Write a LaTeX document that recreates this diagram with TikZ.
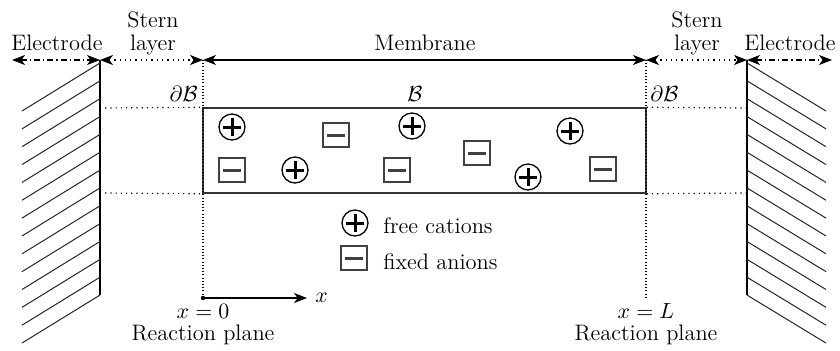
\documentclass[tikz,border=0pt]{standalone}
\usetikzlibrary{arrows.meta}
\begin{document}
\begin{tikzpicture}[x=0.5pt,y=-0.5pt,
  font=\fontsize{11.2}{11.5}\selectfont,
  dimboth/.style={line width=0.65pt,{Stealth[length=6.5pt,width=5pt,inset=1.8pt]}-{Stealth[length=6.5pt,width=5pt,inset=1.8pt]}},
  axisarrow/.style={line width=0.65pt,-{Stealth[length=6.5pt,width=5pt,inset=1.8pt]}},
  guide/.style={dotted,line width=0.6pt},
  vguide/.style={line width=0.6pt,dash pattern=on 0.5pt off 1.1pt},
  hatchline/.style={line width=0.5pt,draw=black!85},
  wallline/.style={line width=0.75pt},
  lbl/.style={inner sep=0pt},
  cation/.style={circle,draw,line width=0.65pt,minimum size=13pt,inner sep=0pt,
    path picture={
      \draw[line width=1.5pt] ([xshift=-4.3pt]path picture bounding box.center) -- ([xshift=4.3pt]path picture bounding box.center);
      \draw[line width=1.5pt] ([yshift=-4.3pt]path picture bounding box.center) -- ([yshift=4.3pt]path picture bounding box.center);}},
  anion/.style={rectangle,draw=black!75,line width=0.55pt,minimum width=13pt,minimum height=12pt,inner sep=0pt,
    path picture={
      \draw[line width=1.5pt] ([xshift=-4.3pt]path picture bounding box.center) -- ([xshift=4.3pt]path picture bounding box.center);}},
]
\useasboundingbox (0,0) rectangle (840,350);

% coordinates along the top
\coordinate (eL) at (12,60);
\coordinate (wL) at (100,60);
\coordinate (rL) at (203,60);
\coordinate (rR) at (646,60);
\coordinate (wR) at (747,60);
\coordinate (eR) at (832,60);
\coordinate (wLb) at (100,295);
\coordinate (wRb) at (747,295);
\coordinate (wLt) at (100,108);
\coordinate (wLu) at (100,193);
\coordinate (wRt) at (747,108);
\coordinate (wRu) at (747,193);
\coordinate (o) at (203,298);
\coordinate (L) at (646,298);
\coordinate (xe) at (307,298);

% electrodes
\draw[wallline] (wL) -- (wLb);
\draw[wallline] (wR) -- (wRb);
\foreach \i in {0,...,13}{
  \draw[hatchline] (100,{63+17.85*\i}) -- (22,{111+17.85*\i});
  \draw[hatchline] (747,{63+17.85*\i}) -- (826,{111+17.85*\i});
}

% membrane box
\node (mem) [draw=black!80,line width=0.75pt,minimum width=221.5pt,minimum height=42.5pt,inner sep=0pt] at (424.5,150.5) {};

% guides
\draw[vguide] (rL) -- (o);
\draw[vguide] (rR) -- (L);
\draw[guide] (wLt) -- (mem.north west);
\draw[guide] (wLu) -- (mem.south west);
\draw[guide] (mem.north east) -- (wRt);
\draw[guide] (mem.south east) -- (wRu);

% top dimension arrows
\draw[dimboth,dash pattern=on 3pt off 1.5pt on 0.6pt off 1.5pt] (eL) -- (wL);
\draw[dimboth,dotted] (wL) -- (rL);
\draw[dimboth] (rL) -- (rR);
\draw[dimboth,dotted] (rR) -- (wR);
\draw[dimboth,dash pattern=on 3pt off 1.5pt on 0.6pt off 1.5pt] (wR) -- (eR);

% top labels
\node[lbl,anchor=base] (tE1) at (57,50) {Electrode};
\node[lbl,anchor=north,align=center] (tS1) at (153,11.7) {Stern\\layer};
\node[lbl,anchor=base] (tM) at (425,50) {Membrane};
\node[lbl,anchor=north,align=center] (tS2) at (697,11.7) {Stern\\layer};
\node[lbl,anchor=base] (tE2) at (790,50) {Electrode};

\node[lbl,anchor=base east] (dB1) at (198,101.7) {$\partial\mathcal{B}$};
\node[lbl,anchor=base] (B) at (415,101.7) {$\mathcal{B}$};
\node[lbl,anchor=base west] (dB2) at (650,101.7) {$\partial\mathcal{B}$};

% ions
\node[cation] (c1) at (232,127) {};
\node[anion]  (a1) at (336,135) {};
\node[cation] (c2) at (412,126) {};
\node[anion]  (a2) at (232,170) {};
\node[cation] (c3) at (295,170) {};
\node[anion]  (a3) at (397,170) {};
\node[anion]  (a4) at (477,153) {};
\node[cation] (c4) at (570,131) {};
\node[cation] (c5) at (528,177) {};
\node[anion]  (a5) at (603,169) {};

% legend
\node[cation] (lc) at (355,223) {};
\node[lbl,anchor=base west] (lct) at (383,233) {free cations};
\node[anion] (la) at (354,258) {};
\node[lbl,anchor=base west] (lat) at (383,269) {fixed anions};

% x axis
\draw[axisarrow] (o) -- (xe);
\fill (o) circle (1.1pt);
\node[lbl,anchor=base west] (xl) at (315,302) {$x$};

% bottom labels
\node[lbl,anchor=base] (x0) at (203,318) {$x=0$};
\node[lbl,anchor=base] (rp1) at (203,340) {Reaction plane};
\node[lbl,anchor=base] (xL) at (646,318) {$x=L$};
\node[lbl,anchor=base] (rp2) at (646,340) {Reaction plane};
\end{tikzpicture}
\end{document}
